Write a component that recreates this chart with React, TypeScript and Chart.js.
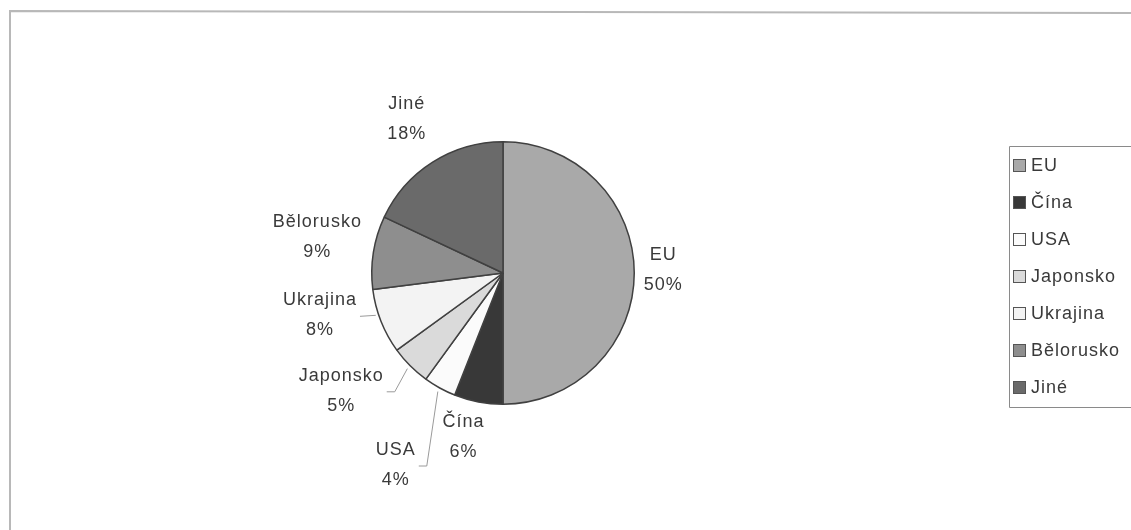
import React, { useEffect, useRef } from "react";
import { Chart, registerables } from "chart.js";

Chart.register(...registerables);

const categories = ["EU", "Čína", "USA", "Japonsko", "Ukrajina", "Bělorusko", "Jiné"];
const shares = [50, 6, 4, 5, 8, 9, 18];
const sliceColors = ["#a9a9a9", "#383838", "#fbfbfb", "#dadada", "#f3f3f3", "#8e8e8e", "#6a6a6a"];

// label placement relative to the outer arc point at each slice's mid angle
const labelOffsets: [number, number][] = [
  [29, -3],
  [-15, 35],
  [-44, 77],
  [-69, 25],
  [-61, -6],
  [-56, -15],
  [-26, -43],
];
const leaderKinds = ["none", "none", "elbow", "elbow", "straight", "none", "none"];

const FONT = '18px "Liberation Sans", Arial, sans-serif';
const TEXT = "#3a3a3a";

const decorPlugin = {
  id: "decor",
  beforeDraw(chart: any) {
    const ctx = chart.ctx;
    ctx.save();
    ctx.strokeStyle = "#b8b8b8";
    ctx.lineWidth = 2;
    ctx.beginPath();
    ctx.moveTo(10, 531);
    ctx.lineTo(10, 11);
    ctx.lineTo(1131, 13);
    ctx.stroke();
    ctx.restore();
  },
  afterDraw(chart: any) {
    const ctx = chart.ctx;
    const meta = chart.getDatasetMeta(0);
    ctx.save();
    ctx.font = FONT;
    (ctx as any).letterSpacing = "1px";
    ctx.fillStyle = TEXT;
    ctx.textAlign = "center";
    ctx.textBaseline = "middle";
    meta.data.forEach((arc: any, i: number) => {
      const p = arc.getProps(["x", "y", "startAngle", "endAngle", "outerRadius"], true);
      const mid = (p.startAngle + p.endAngle) / 2;
      const ax = p.x + Math.cos(mid) * p.outerRadius;
      const ay = p.y + Math.sin(mid) * p.outerRadius;
      const lx = ax + labelOffsets[i][0];
      const ly = ay + labelOffsets[i][1];
      const l1 = categories[i];
      const l2 = shares[i] + "%";
      ctx.fillStyle = TEXT;
      ctx.fillText(l1, lx, ly - 15);
      ctx.fillText(l2, lx, ly + 15);
      const w = Math.max(ctx.measureText(l1).width, ctx.measureText(l2).width);
      const right = lx + w / 2;
      ctx.strokeStyle = "#9a9a9a";
      ctx.lineWidth = 1;
      if (leaderKinds[i] === "straight") {
        const yy = ly;
        const dy = yy - p.y;
        const ex = p.x - Math.sqrt(Math.max(0, p.outerRadius * p.outerRadius - dy * dy));
        ctx.beginPath();
        ctx.moveTo(right + 3, yy + 1);
        ctx.lineTo(ex - 3, yy);
        ctx.stroke();
      } else if (leaderKinds[i] === "elbow") {
        const sx = right + 3;
        const sy = ly + 1;
        ctx.beginPath();
        ctx.moveTo(sx, sy);
        ctx.lineTo(sx + 8, sy);
        ctx.lineTo(p.x + Math.cos(mid) * (p.outerRadius + 4), p.y + Math.sin(mid) * (p.outerRadius + 4));
        ctx.stroke();
      }
    });

    // legend
    const boxL = 1009;
    const boxT = 146;
    const boxB = 407;
    ctx.strokeStyle = "#8a8a8a";
    ctx.lineWidth = 1;
    ctx.beginPath();
    ctx.moveTo(1131, boxT + 0.5);
    ctx.lineTo(boxL + 0.5, boxT + 0.5);
    ctx.lineTo(boxL + 0.5, boxB + 0.5);
    ctx.lineTo(1131, boxB + 0.5);
    ctx.stroke();
    ctx.textAlign = "left";
    categories.forEach((c, i) => {
      const cy = 165 + i * 37;
      ctx.fillStyle = sliceColors[i];
      ctx.fillRect(1013, cy - 6, 13, 13);
      ctx.strokeStyle = "#555";
      ctx.strokeRect(1013.5, cy - 5.5, 12, 12);
      ctx.fillStyle = TEXT;
      ctx.fillText(c, 1031, cy + 1);
    });
    ctx.restore();
  },
};

export default function App() {
  const ref = useRef<HTMLCanvasElement | null>(null);
  useEffect(() => {
    document.body.style.margin = "0";
    const canvas = ref.current!;
    const chart = new Chart(canvas, {
      type: "pie",
      data: {
        labels: categories,
        datasets: [
          {
            data: shares,
            backgroundColor: sliceColors,
            borderColor: "#404040",
            borderWidth: 1.5,
          },
        ],
      },
      options: {
        responsive: false,
        animation: false,
        devicePixelRatio: 1,
        layout: { padding: { left: 371, right: 496, top: 141, bottom: 125 } },
        plugins: {
          legend: { display: false },
          tooltip: { enabled: false },
          title: { display: false },
        },
      },
      plugins: [decorPlugin],
    });
    return () => chart.destroy();
  }, []);
  return (
    <div style={{ width: 1131, height: 530, background: "#fff" }}>
      <canvas ref={ref} width={1131} height={530} style={{ display: "block" }} />
    </div>
  );
}
